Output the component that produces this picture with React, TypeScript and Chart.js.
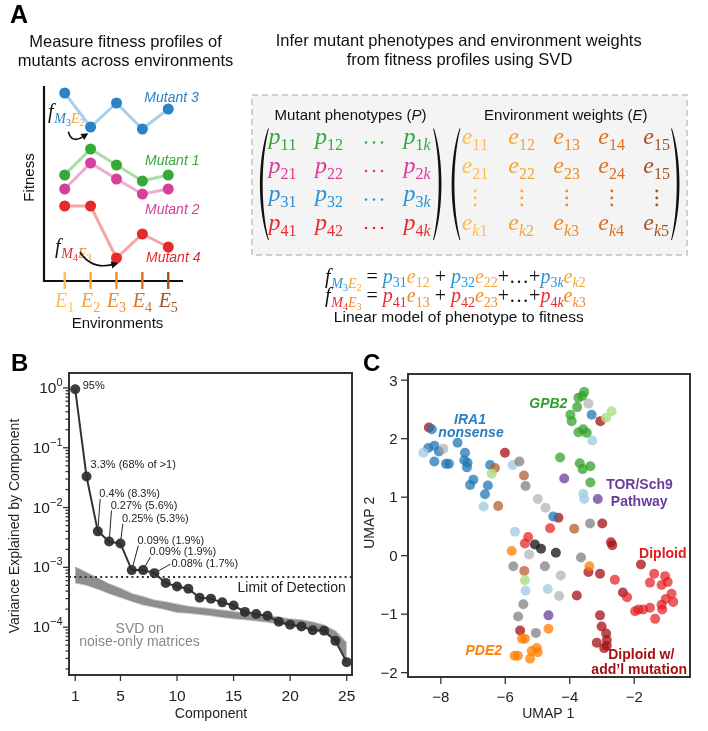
import React, { useEffect, useRef } from "react";
import { Chart, registerables } from "chart.js";
Chart.register(...registerables);

const SANS = '"Liberation Sans", Arial, Helvetica, sans-serif';
const SERIF = '"Liberation Serif", "Times New Roman", serif';

// ---------------- Panel A data ----------------
const environments = [1, 2, 3, 4, 5];
const envSubs = ["1", "2", "3", "4", "5"];
const mutant1Fitness = [5.3, 6.6, 5.8, 5.0, 5.3];
const mutant2Fitness = [4.6, 5.9, 5.1, 4.35, 4.6];
const mutant3Fitness = [9.4, 7.7, 8.9, 7.6, 8.6];
const mutant4Fitness = [3.75, 3.75, 1.15, 2.35, 1.7];

// ---------------- Panel B data ----------------
const components = [1, 2, 3, 4, 5, 6, 7, 8, 9, 10, 11, 12, 13, 14, 15, 16, 17, 18, 19, 20, 21, 22, 23, 24, 25];
const varianceExplained = [0.95, 0.033, 0.004, 0.0027, 0.0025, 0.0009, 0.0009, 0.0008, 5.5e-4, 4.8e-4, 4.4e-4, 3.1e-4, 3.0e-4, 2.6e-4, 2.3e-4, 1.8e-4, 1.66e-4, 1.55e-4, 1.23e-4, 1.1e-4, 1.03e-4, 8.9e-5, 8.7e-5, 5.9e-5, 2.6e-5];
const noiseUpper = [1.0e-3, 8.1e-4, 6.5e-4, 5.2e-4, 4.4e-4, 3.6e-4, 3.2e-4, 2.8e-4, 2.6e-4, 2.4e-4, 2.2e-4, 2.1e-4, 2.0e-4, 1.9e-4, 1.8e-4, 1.7e-4, 1.6e-4, 1.55e-4, 1.45e-4, 1.35e-4, 1.3e-4, 1.2e-4, 1.07e-4, 8.5e-5, 5.4e-5];
const noiseLower = [5.6e-4, 5.1e-4, 4.4e-4, 3.7e-4, 3.2e-4, 2.75e-4, 2.4e-4, 2.2e-4, 2.0e-4, 1.8e-4, 1.74e-4, 1.66e-4, 1.58e-4, 1.48e-4, 1.41e-4, 1.35e-4, 1.29e-4, 1.23e-4, 1.15e-4, 1.07e-4, 1.0e-4, 9.3e-5, 8.1e-5, 6.0e-5, 2.8e-5];
const limitOfDetection = 6.9e-4;
const bXTicks = [1, 5, 10, 15, 20, 25];
const bDecades = [0, -1, -2, -3, -4];
const varianceLabels = [
  { comp: 1, text: "95%", dx: 7.5, dy: 0, leader: false, ly: 0 },
  { comp: 2, text: "3.3% (68% of >1)", dx: 4, dy: -8.5, leader: false, ly: 0 },
  { comp: 3, text: "0.4% (8.3%)", dx: 1.5, dy: -34.5, leader: true, ly: 2 },
  { comp: 4, text: "0.27% (5.6%)", dx: 1.5, dy: -33, leader: true, ly: 2 },
  { comp: 5, text: "0.25% (5.3%)", dx: 1.5, dy: -21.8, leader: true, ly: 2 },
  { comp: 6, text: "0.09% (1.9%)", dx: 5.7, dy: -26.4, leader: true, ly: 2 },
  { comp: 7, text: "0.09% (1.9%)", dx: 6.4, dy: -15, leader: true, ly: 2 },
  { comp: 8, text: "0.08% (1.7%)", dx: 17, dy: -6, leader: true, ly: -3 },
];

// ---------------- Panel C data (UMAP 1, UMAP 2) ----------------
const ira1Blue = [[-8.28, 2.16], [-8.39, 1.84], [-8.2, 1.88], [-8.06, 1.78], [-8.2, 1.61], [-7.84, 1.57], [-7.75, 1.57], [-7.48, 1.93], [-7.25, 1.76], [-7.27, 1.63], [-7.17, 1.59], [-7.19, 1.51], [-6.99, 1.3], [-7.09, 1.21], [-6.47, 1.55], [-6.54, 1.2], [-6.63, 1.05], [-3.32, 2.41], [-4.51, 0.67]];
const lightBlue = [[-8.54, 1.76], [-6.67, 0.84], [-5.77, 1.55], [-3.3, 1.97], [-3.58, 1.06], [-3.55, 0.97], [-5.7, 0.41], [-5.37, -0.6], [-4.68, -0.57]];
const gpb2Green = [[-3.55, 2.8], [-3.61, 2.73], [-3.73, 2.7], [-3.77, 2.54], [-3.98, 2.41], [-3.94, 2.3], [-3.73, 2.11], [-3.58, 2.16], [-3.47, 2.1], [-4.3, 1.68], [-3.69, 1.58], [-3.6, 1.48], [-3.36, 1.53], [-3.36, 1.25]];
const lightGreen = [[-6.42, 1.4], [-2.7, 2.47], [-2.87, 2.36], [-5.39, -0.42]];
const diploidRed = [[-5.29, 0.32], [-5.39, 0.21], [-4.61, 0.47], [-2.6, -0.41], [-1.38, -0.31], [-1.04, -0.35], [-0.96, -0.45], [-1.15, -0.5], [-1.51, -0.46], [-2.22, -0.71], [-0.84, -0.65], [-1.02, -0.74], [-0.79, -0.79], [-1.15, -0.84], [-1.51, -0.89], [-1.72, -0.92], [-1.97, -0.95], [-1.87, -0.92], [-1.13, -0.92], [-1.35, -1.08]];
const diploidMutDarkRed = [[-8.37, 2.19], [-6.01, 1.76], [-3.05, 2.3], [-4.35, 0.65], [-2.99, 0.55], [-2.72, 0.23], [-2.68, 0.18], [-3.42, -0.28], [-3.06, -0.31], [-1.79, -0.15], [-3.78, -0.68], [-2.35, -0.63], [-5.54, -1.28], [-3.06, -1.02], [-3.01, -1.21], [-2.87, -1.33], [-2.85, -1.44], [-3.16, -1.49], [-2.85, -1.54], [-2.93, -1.58]];
const pde2Orange = [[-5.8, 0.08], [-3.39, -0.18], [-4.66, -1.25], [-5.39, -1.42], [-5.48, -1.42], [-5.02, -1.58], [-5.18, -1.63], [-4.99, -1.65], [-5.61, -1.71], [-5.71, -1.71], [-5.23, -1.76]];
const otherBrown = [[-6.32, 1.5], [-6.22, 0.85], [-5.42, 1.37], [-5.41, -0.26], [-3.86, 0.46]];
const torPurple = [[-4.17, 1.32], [-3.13, 0.97], [-4.66, -1.02]];
const greyMid = [[-5.56, 1.61], [-5.37, 1.19], [-3.37, 0.55], [-5.75, -0.18], [-4.77, -0.18], [-3.65, -0.03], [-5.44, -0.83], [-5.6, -1.04], [-5.05, -1.32]];
const greyLight = [[-7.92, 1.83], [-3.42, 2.6], [-4.99, 0.97], [-4.75, 0.82], [-5.26, 0.02], [-4.28, -0.34], [-4.33, -0.69]];
const greyDark = [[-5.08, 0.19], [-4.89, 0.12], [-4.43, 0.05]];
const cXTicks = [-8, -6, -4, -2];
const cYTicks = [-2, -1, 0, 1, 2, 3];

// ---------------- colours ----------------
const envColors = ["#fcbf4e", "#f8a431", "#f08a28", "#df6d1f", "#a4521f"];
const M1 = "#37a83a", M2 = "#d6409c", M3 = "#2b82c4", M4 = "#e42a2b";
const P1 = "#35a843", P2 = "#df3a99", P3 = "#2e93d6", P4 = "#eb2b2e";

type Seg = { t: string; f: string; c: string; dy?: number };
const it = (px: number) => `italic ${px}px ${SERIF}`;
const rm = (px: number) => `${px}px ${SERIF}`;
const sans = (px: number, style = "") => `${style} ${px}px ${SANS}`.trim();

function rich(ctx: CanvasRenderingContext2D, x: number, y: number, segs: Seg[], align = "left") {
  ctx.save();
  ctx.textAlign = "left";
  ctx.textBaseline = "alphabetic";
  let w = 0;
  const ws = segs.map((s) => {
    ctx.font = s.f;
    const m = ctx.measureText(s.t).width;
    w += m;
    return m;
  });
  let cx = align === "center" ? x - w / 2 : align === "right" ? x - w : x;
  segs.forEach((s, i) => {
    ctx.font = s.f;
    ctx.fillStyle = s.c;
    ctx.fillText(s.t, cx, y + (s.dy ?? 0));
    cx += ws[i];
  });
  ctx.restore();
  return w;
}

function txt(ctx: CanvasRenderingContext2D, t: string, x: number, y: number, font: string, color: string, align: CanvasTextAlign = "left", rot = 0, base: CanvasTextBaseline = "alphabetic") {
  ctx.save();
  ctx.font = font;
  ctx.fillStyle = color;
  ctx.textAlign = align;
  ctx.textBaseline = base;
  ctx.translate(x, y);
  if (rot) ctx.rotate(rot);
  ctx.fillText(t, 0, 0);
  ctx.restore();
}

function mathSym(letter: string, sub: string, color: string, size: number, subSize: number, dy: number): Seg[] {
  return [
    { t: letter, f: it(size), c: color },
    ...sub.split("").map((ch) => ({ t: ch, f: /[a-zA-Z]/.test(ch) ? it(subSize) : rm(subSize), c: color, dy })),
  ];
}

function fLabel(mColor: string, mNum: string, eColor: string, eNum: string): Seg[] {
  return [
    { t: "f", f: it(20), c: "#111" },
    { t: " ", f: rm(3), c: "#111" },
    { t: "M", f: it(14), c: mColor, dy: 5 },
    { t: mNum, f: rm(10), c: mColor, dy: 8 },
    { t: "E", f: it(14), c: eColor, dy: 5 },
    { t: eNum, f: rm(10), c: eColor, dy: 8 },
  ];
}

function curvedArrow(ctx: CanvasRenderingContext2D, sx: number, sy: number, cx: number, cy: number, ex: number, ey: number) {
  ctx.save();
  ctx.strokeStyle = "#111";
  ctx.fillStyle = "#111";
  ctx.lineWidth = 1.6;
  const ang = Math.atan2(ey - cy, ex - cx);
  const L = 7, W = 3.6;
  const bx = ex - (L - 1) * Math.cos(ang), by = ey - (L - 1) * Math.sin(ang);
  ctx.beginPath();
  ctx.moveTo(sx, sy);
  ctx.quadraticCurveTo(cx, cy, bx, by);
  ctx.stroke();
  ctx.beginPath();
  ctx.moveTo(ex, ey);
  ctx.lineTo(ex - L * Math.cos(ang) + W * Math.sin(ang), ey - L * Math.sin(ang) - W * Math.cos(ang));
  ctx.lineTo(ex - L * Math.cos(ang) - W * Math.sin(ang), ey - L * Math.sin(ang) + W * Math.cos(ang));
  ctx.closePath();
  ctx.fill();
  ctx.restore();
}

function paren(ctx: CanvasRenderingContext2D, xOut: number, xEnd: number, y1: number, y2: number) {
  const dir = xEnd > xOut ? 1 : -1;
  const h = y2 - y1;
  const c1 = xOut - (xEnd - xOut) / 3;
  const xin = xOut + dir * 2.7;
  const xEndIn = xEnd + dir * 0.9;
  const c2 = xin - (xEndIn - xin) / 3;
  ctx.save();
  ctx.fillStyle = "#111";
  ctx.beginPath();
  ctx.moveTo(xEnd, y1);
  ctx.bezierCurveTo(c1, y1 + h * 0.28, c1, y2 - h * 0.28, xEnd, y2);
  ctx.lineTo(xEndIn, y2);
  ctx.bezierCurveTo(c2, y2 - h * 0.28, c2, y1 + h * 0.28, xEndIn, y1);
  ctx.closePath();
  ctx.fill();
  ctx.restore();
}

function dot(ctx: CanvasRenderingContext2D, x: number, y: number, r: number, color: string) {
  ctx.beginPath();
  ctx.arc(x, y, r, 0, Math.PI * 2);
  ctx.fillStyle = color;
  ctx.fill();
}

// ---------------- Panel A ----------------
const panelAPlugin = {
  id: "panelA",
  afterDraw(chart: any) {
    const ctx: CanvasRenderingContext2D = chart.ctx;
    const xs = chart.scales.x;
    const ca = chart.chartArea;
    ctx.save();
    ctx.strokeStyle = "#111";
    ctx.lineWidth = 2.2;
    ctx.beginPath();
    ctx.moveTo(ca.left, ca.top - 1);
    ctx.lineTo(ca.left, ca.bottom);
    ctx.lineTo(ca.right, ca.bottom);
    ctx.stroke();
    environments.forEach((e, i) => {
      const x = xs.getPixelForValue(e);
      ctx.strokeStyle = envColors[i];
      ctx.lineWidth = 2.4;
      ctx.beginPath();
      ctx.moveTo(x, ca.bottom - 9);
      ctx.lineTo(x, ca.bottom + 8);
      ctx.stroke();
      rich(ctx, x, 306.5, [
        { t: "E", f: it(20), c: envColors[i] },
        { t: envSubs[i], f: rm(14), c: envColors[i], dy: 5 },
      ], "center");
    });
    ctx.restore();

    txt(ctx, "A", 10, 23, sans(25, "bold"), "#000");
    txt(ctx, "Measure fitness profiles of", 125.5, 47, sans(16.5), "#111", "center");
    txt(ctx, "mutants across environments", 125.5, 65.5, sans(16.5), "#111", "center");
    txt(ctx, "Fitness", 30, 177.5, sans(15), "#111", "center", -Math.PI / 2, "middle");
    txt(ctx, "Environments", 117.5, 328, sans(15), "#111", "center");
    txt(ctx, "Mutant 3", 144.3, 102, sans(14, "italic"), M3);
    txt(ctx, "Mutant 1", 145, 165, sans(14, "italic"), M1);
    txt(ctx, "Mutant 2", 145, 214, sans(14, "italic"), M2);
    txt(ctx, "Mutant 4", 146, 262, sans(14, "italic"), M4);

    rich(ctx, 48, 117.5, fLabel(M3, "3", envColors[1], "2"));
    rich(ctx, 55, 252.5, fLabel(M4, "4", envColors[2], "3"));
    curvedArrow(ctx, 68.3, 131.7, 71.7, 144, 88.3, 133.3);
    curvedArrow(ctx, 80, 252, 91, 269.6, 118.3, 263.3);

    txt(ctx, "Infer mutant phenotypes and environment weights", 458.7, 46, sans(16.5), "#111", "center");
    txt(ctx, "from fitness profiles using SVD", 459.5, 65, sans(16.5), "#111", "center");

    ctx.save();
    ctx.fillStyle = "#f4f4f4";
    ctx.fillRect(252, 95, 435, 160);
    ctx.setLineDash([6, 4]);
    ctx.strokeStyle = "#d0d0d0";
    ctx.lineWidth = 2;
    ctx.strokeRect(252, 95, 435, 160);
    ctx.restore();

    rich(ctx, 350.5, 120, [
      { t: "Mutant phenotypes (", f: sans(15), c: "#111" },
      { t: "P", f: sans(15, "italic"), c: "#111" },
      { t: ")", f: sans(15), c: "#111" },
    ], "center");
    rich(ctx, 565.8, 120, [
      { t: "Environment weights (", f: sans(15), c: "#111" },
      { t: "E", f: sans(15, "italic"), c: "#111" },
      { t: ")", f: sans(15), c: "#111" },
    ], "center");

    const rowsY = [144, 172.5, 201, 229.5];
    const pColors = [P1, P2, P3, P4];
    const pColX = [268.5, 315, 403.5];
    rowsY.forEach((y, r) => {
      const n = String(r + 1);
      rich(ctx, pColX[0], y, mathSym("p", n + "1", pColors[r], 24, 16, 6));
      rich(ctx, pColX[1], y, mathSym("p", n + "2", pColors[r], 24, 16, 6));
      rich(ctx, pColX[2], y, mathSym("p", n + "k", pColors[r], 24, 16, 6));
      [366, 374, 382].forEach((dx) => dot(ctx, dx, y - 1.5, 1.3, pColors[r]));
    });
    paren(ctx, 260, 268, 128.5, 240);
    paren(ctx, 441.5, 434, 128.5, 240);

    const eColX = [461.7, 508.3, 553.3, 598.3, 643.3];
    const eRowSub = ["1", "2", "", "k"];
    rowsY.forEach((y, r) => {
      eColX.forEach((x, c) => {
        if (r === 2) {
          [-7, 0, 7].forEach((d) => dot(ctx, x + 13.5, 198 + d, 1.4, envColors[c]));
          return;
        }
        let sub = eRowSub[r] + String(c + 1);
        if (r === 1 && c === 4) sub = "15";
        rich(ctx, x, y, mathSym("e", sub, envColors[c], 24, 16, 6));
      });
    });
    paren(ctx, 451.7, 459.5, 128.5, 240);
    paren(ctx, 679.5, 672, 128.5, 240);

    const eq1: Seg[] = [
      ...fLabel(P3, "3", envColors[1], "2"),
      { t: " = ", f: rm(20), c: "#111" },
      ...mathSym("p", "31", P3, 20, 14, 4.5),
      ...mathSym("e", "12", envColors[1], 20, 14, 4.5),
      { t: " + ", f: rm(20), c: "#111" },
      ...mathSym("p", "32", P3, 20, 14, 4.5),
      ...mathSym("e", "22", envColors[1], 20, 14, 4.5),
      { t: "+…+", f: rm(20), c: "#111" },
      ...mathSym("p", "3k", P3, 20, 14, 4.5),
      ...mathSym("e", "k2", envColors[1], 20, 14, 4.5),
    ];
    const eq2: Seg[] = [
      ...fLabel(P4, "4", envColors[2], "3"),
      { t: " = ", f: rm(20), c: "#111" },
      ...mathSym("p", "41", P4, 20, 14, 4.5),
      ...mathSym("e", "13", envColors[2], 20, 14, 4.5),
      { t: " + ", f: rm(20), c: "#111" },
      ...mathSym("p", "42", P4, 20, 14, 4.5),
      ...mathSym("e", "23", envColors[2], 20, 14, 4.5),
      { t: "+…+", f: rm(20), c: "#111" },
      ...mathSym("p", "4k", P4, 20, 14, 4.5),
      ...mathSym("e", "k3", envColors[2], 20, 14, 4.5),
    ];
    rich(ctx, 325, 282.5, eq1);
    rich(ctx, 325, 302, eq2);
    txt(ctx, "Linear model of phenotype to fitness", 458.8, 321.7, sans(15.5), "#111", "center");
  },
};

function makeA(canvas: HTMLCanvasElement) {
  const mk = (vals: number[], line: string, pt: string) => ({
    data: environments.map((e, i) => ({ x: e, y: vals[i] })),
    borderColor: line,
    borderWidth: 3,
    pointRadius: 5.5,
    pointBackgroundColor: pt,
    pointBorderWidth: 0,
    fill: false,
    clip: false as any,
  });
  return new Chart(canvas, {
    type: "line",
    data: {
      datasets: [
        mk(mutant3Fitness, "#a9cfea", M3),
        mk(mutant1Fitness, "#a9dca4", M1),
        mk(mutant2Fitness, "#efaad0", M2),
        mk(mutant4Fitness, "#f4a6a6", M4),
      ] as any,
    },
    options: {
      responsive: false,
      animation: false,
      devicePixelRatio: 1,
      layout: { padding: { left: 44, top: 87, right: 525, bottom: 59 } },
      scales: {
        x: { type: "linear", min: 0.2, max: 5.57, display: false },
        y: { type: "linear", min: 0, max: 9.7, display: false },
      },
      plugins: { legend: { display: false }, tooltip: { enabled: false } },
    },
    plugins: [panelAPlugin],
  });
}

// ---------------- Panel B ----------------
const panelBPlugin = {
  id: "panelB",
  afterDraw(chart: any) {
    const ctx: CanvasRenderingContext2D = chart.ctx;
    const xs = chart.scales.x, ys = chart.scales.y;
    const ca = chart.chartArea;
    ctx.save();
    ctx.strokeStyle = "#333";
    ctx.lineWidth = 2;
    ctx.strokeRect(ca.left, ca.top, ca.right - ca.left, ca.bottom - ca.top);
    ctx.lineWidth = 1.3;
    for (let e = -5; e <= 0; e++) {
      for (let m = 1; m <= 9; m++) {
        const v = m * Math.pow(10, e);
        if (v < ys.min || v > ys.max) continue;
        const y = ys.getPixelForValue(v);
        const len = m === 1 ? 6 : 3.5;
        ctx.beginPath();
        ctx.moveTo(ca.left - len, y);
        ctx.lineTo(ca.left, y);
        ctx.stroke();
      }
    }
    bXTicks.forEach((t) => {
      const x = xs.getPixelForValue(t);
      ctx.beginPath();
      ctx.moveTo(x, ca.bottom);
      ctx.lineTo(x, ca.bottom + 6);
      ctx.stroke();
      txt(ctx, String(t), x, 360.5, sans(15.5), "#222", "center");
    });
    bDecades.forEach((e) => {
      const y = ys.getPixelForValue(Math.pow(10, e));
      const exp = e === 0 ? "0" : "\u2212" + String(-e);
      ctx.font = sans(11);
      const we = ctx.measureText(exp).width;
      ctx.font = sans(15.5);
      const wb = ctx.measureText("10").width;
      const right = ca.left - 6.5;
      txt(ctx, "10", right - we - wb, y + 5, sans(15.5), "#222");
      txt(ctx, exp, right - we, y - 2, sans(11), "#222");
    });
    ctx.restore();

    txt(ctx, "B", 11, 30.5, sans(24, "bold"), "#000");
    txt(ctx, "Variance Explained by Component", 15.5, 186, sans(14), "#222", "center", -Math.PI / 2, "middle");
    txt(ctx, "Component", 211, 378, sans(14), "#222", "center");
    txt(ctx, "Limit of Detection", 345.7, 251.7, sans(14), "#222", "right");
    txt(ctx, "SVD on", 139.7, 292.7, sans(14), "#888", "center");
    txt(ctx, "noise-only matrices", 139.5, 306, sans(14), "#888", "center");

    ctx.save();
    ctx.strokeStyle = "#222";
    ctx.lineWidth = 1;
    varianceLabels.forEach((a) => {
      const v = varianceExplained[components.indexOf(a.comp)];
      const px = xs.getPixelForValue(a.comp), py = ys.getPixelForValue(v);
      const tx = px + a.dx, ty = py + a.dy;
      txt(ctx, a.text, tx, ty, sans(11), "#222");
      if (a.leader) {
        const ex = tx + (a.ly < 0 ? -1 : 0.8), ey = ty + a.ly;
        const ang = Math.atan2(ey - py, ex - px);
        ctx.beginPath();
        ctx.moveTo(px + 4.5 * Math.cos(ang), py + 4.5 * Math.sin(ang));
        ctx.lineTo(ex, ey);
        ctx.stroke();
      }
    });
    ctx.restore();
  },
};

function makeB(canvas: HTMLCanvasElement) {
  const pts = (vals: number[]) => components.map((c, i) => ({ x: c, y: vals[i] }));
  return new Chart(canvas, {
    type: "line",
    data: {
      datasets: [
        {
          data: pts(varianceExplained),
          borderColor: "#333",
          borderWidth: 2,
          pointRadius: 5,
          pointBackgroundColor: "rgba(45,45,45,0.92)",
          pointBorderWidth: 0,
          fill: false,
          clip: false,
        },
        {
          data: [{ x: 0.45, y: limitOfDetection }, { x: 25.47, y: limitOfDetection }],
          borderColor: "#333",
          borderWidth: 2,
          borderDash: [2, 3.2],
          pointRadius: 0,
          fill: false,
        },
        {
          data: pts(noiseUpper),
          borderColor: "rgba(140,140,140,0.55)",
          borderWidth: 2,
          pointRadius: 0,
          backgroundColor: "rgba(132,132,132,0.92)",
          fill: "+1",
        },
        {
          data: pts(noiseLower),
          borderColor: "rgba(140,140,140,0.55)",
          borderWidth: 2,
          pointRadius: 0,
          fill: false,
        },
      ] as any,
    },
    options: {
      responsive: false,
      animation: false,
      devicePixelRatio: 1,
      layout: { padding: { left: 69, top: 33, right: 8, bottom: 56 } },
      scales: {
        x: { type: "linear", min: 0.45, max: 25.47, display: false },
        y: { type: "logarithmic", min: Math.pow(10, -4.8), max: Math.pow(10, 0.25), display: false },
      },
      plugins: { legend: { display: false }, tooltip: { enabled: false } },
    },
    plugins: [panelBPlugin],
  });
}

// ---------------- Panel C ----------------
const panelCPlugin = {
  id: "panelC",
  afterDraw(chart: any) {
    const ctx: CanvasRenderingContext2D = chart.ctx;
    const xs = chart.scales.x, ys = chart.scales.y;
    const ca = chart.chartArea;
    ctx.save();
    ctx.strokeStyle = "#333";
    ctx.lineWidth = 2;
    ctx.strokeRect(ca.left, ca.top, ca.right - ca.left, ca.bottom - ca.top);
    ctx.lineWidth = 1.3;
    cXTicks.forEach((t) => {
      const x = xs.getPixelForValue(t);
      ctx.beginPath();
      ctx.moveTo(x, ca.bottom);
      ctx.lineTo(x, ca.bottom + 7);
      ctx.stroke();
      txt(ctx, "\u2212" + String(-t), x, 361.5, sans(15), "#222", "center");
    });
    cYTicks.forEach((t) => {
      const y = ys.getPixelForValue(t);
      ctx.beginPath();
      ctx.moveTo(ca.left - 7, y);
      ctx.lineTo(ca.left, y);
      ctx.stroke();
      txt(ctx, t < 0 ? "\u2212" + String(-t) : String(t), ca.left - 10.5, y + 5.3, sans(15), "#222", "right");
    });
    ctx.restore();

    txt(ctx, "C", 3, 31, sans(24, "bold"), "#000");
    txt(ctx, "UMAP 2", 10, 182.7, sans(14), "#222", "center", -Math.PI / 2, "middle");
    txt(ctx, "UMAP 1", 188.3, 378, sans(14), "#222", "center");

    const bi = sans(14, "italic bold");
    const b = sans(14, "bold");
    txt(ctx, "GPB2", 188.3, 68, bi, "#2ca02c", "center");
    txt(ctx, "IRA1", 110, 84, bi, "#2a7fc0", "center");
    txt(ctx, "nonsense", 111, 97.3, bi, "#2a7fc0", "center");
    txt(ctx, "TOR/Sch9", 279.5, 149.3, b, "#6a3d9a", "center");
    txt(ctx, "Pathway", 279.2, 165.5, b, "#6a3d9a", "center");
    txt(ctx, "Diploid", 302.8, 218, b, "#e31a1c", "center");
    txt(ctx, "PDE2", 123.8, 314.7, bi, "#ff7f00", "center");
    txt(ctx, "Diploid w/", 281.3, 319.3, b, "#a50f15", "center");
    txt(ctx, "add\u2019l mutation", 279.2, 333.7, b, "#a50f15", "center");
  },
};

function makeC(canvas: HTMLCanvasElement) {
  const ds = (pts: number[][], color: string) => ({
    data: pts.map((p) => ({ x: p[0], y: p[1] })),
    pointRadius: 5,
    pointBackgroundColor: color,
    pointBorderWidth: 0,
    showLine: false,
    clip: false,
  });
  return new Chart(canvas, {
    type: "scatter",
    data: {
      datasets: [
        ds(greyLight, "rgba(165,165,165,0.62)"),
        ds(greyMid, "rgba(120,120,120,0.7)"),
        ds(greyDark, "rgba(25,25,25,0.78)"),
        ds(lightBlue, "rgba(166,206,227,0.82)"),
        ds(lightGreen, "rgba(178,223,138,0.85)"),
        ds(otherBrown, "rgba(177,89,40,0.72)"),
        ds(torPurple, "rgba(106,61,154,0.75)"),
        ds(pde2Orange, "rgba(255,127,0,0.75)"),
        ds(ira1Blue, "rgba(31,120,180,0.75)"),
        ds(gpb2Green, "rgba(51,160,44,0.75)"),
        ds(diploidRed, "rgba(227,26,28,0.7)"),
        ds(diploidMutDarkRed, "rgba(165,15,21,0.75)"),
      ] as any,
    },
    options: {
      responsive: false,
      animation: false,
      devicePixelRatio: 1,
      layout: { padding: { left: 48, top: 34, right: 18, bottom: 54 } },
      scales: {
        x: { type: "linear", min: -9.018, max: -0.268, display: false },
        y: { type: "linear", min: -2.074, max: 3.106, display: false },
      },
      plugins: { legend: { display: false }, tooltip: { enabled: false } },
    },
    plugins: [panelCPlugin],
  });
}

export default function App() {
  const aRef = useRef<HTMLCanvasElement>(null);
  const bRef = useRef<HTMLCanvasElement>(null);
  const cRef = useRef<HTMLCanvasElement>(null);
  useEffect(() => {
    const charts = [makeA(aRef.current!), makeB(bRef.current!), makeC(cRef.current!)];
    return () => charts.forEach((c) => c.destroy());
  }, []);
  const abs = (l: number, t: number, w: number, h: number) => ({ position: "absolute" as const, left: l, top: t, width: w, height: h });
  return (
    <div style={{ position: "absolute", left: 0, top: 0, width: 708, height: 731, background: "#fff", overflow: "hidden" }}>
      <canvas ref={aRef} width={708} height={340} style={abs(0, 0, 708, 340)} />
      <canvas ref={bRef} width={360} height={391} style={abs(0, 340, 360, 391)} />
      <canvas ref={cRef} width={348} height={391} style={abs(360, 340, 348, 391)} />
    </div>
  );
}
